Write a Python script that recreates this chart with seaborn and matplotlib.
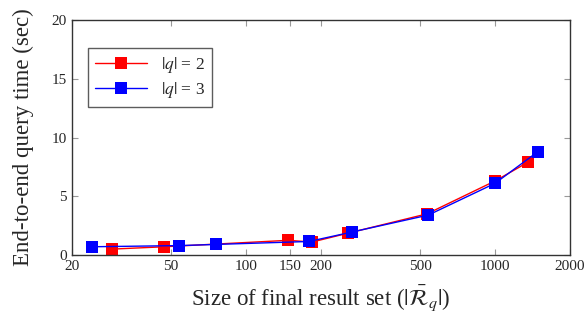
import matplotlib
matplotlib.use("Agg")
import matplotlib.pyplot as plt
import matplotlib.ticker as mticker
import seaborn as sns
import pandas as pd

# Data
q2_size = [29, 47, 148, 184, 256, 533, 1000, 1357]
q2_time = [0.5, 0.7, 1.25, 1.1, 1.85, 3.5, 6.3, 7.9]
q3_size = [24, 54, 76, 179, 266, 540, 1000, 1487]
q3_time = [0.7, 0.8, 0.9, 1.15, 1.95, 3.4, 6.1, 8.8]
x_ticks = [20, 50, 100, 150, 200, 500, 1000, 2000]
y_ticks = [0, 5, 10, 15, 20]

df = pd.concat([
    pd.DataFrame({"size": q2_size, "time": q2_time, "q": r"$|q|$ = 2"}),
    pd.DataFrame({"size": q3_size, "time": q3_time, "q": r"$|q|$ = 3"}),
])

sns.set_style("ticks")
plt.rcParams["font.family"] = ["Liberation Serif", "DejaVu Serif"]
plt.rcParams["mathtext.fontset"] = "stix"

fig = plt.figure(figsize=(5.84, 3.24), dpi=100)
ax = fig.add_axes([0.123, 0.213, 0.853, 0.725])

sns.lineplot(data=df, x="size", y="time", hue="q", palette=["#ff0000", "#0000ff"],
             marker="s", markersize=8.5, markeredgewidth=0, linewidth=1.0,
             ax=ax)

ax.set_xscale("log")
ax.set_xlim(20, 2000)
ax.set_ylim(0, 20)
ax.xaxis.set_major_locator(mticker.FixedLocator(x_ticks))
ax.xaxis.set_major_formatter(mticker.FixedFormatter([str(t) for t in x_ticks]))
ax.xaxis.set_minor_locator(mticker.NullLocator())
ax.set_yticks(y_ticks)

ax.tick_params(direction="in", length=4, color="#999999", labelsize=11,
               top=True, right=True)
for s in ax.spines.values():
    s.set_color("#333333")
    s.set_linewidth(1.0)

ax.set_xlabel(r"Size of final result set ($|\bar{\mathcal{R}}_q|$)", fontsize=16.5,
              labelpad=8)
ax.set_ylabel("End-to-end query time (sec)", fontsize=16.5, labelpad=13)

leg = ax.legend(title=None, loc="upper left", bbox_to_anchor=(0.032, 0.881),
                borderaxespad=0, fontsize=12.5, frameon=True, fancybox=False,
                handlelength=3.0, borderpad=0.4, labelspacing=0.3)
leg.get_frame().set_edgecolor("#333333")
leg.get_frame().set_linewidth(1.0)

fig.savefig("out.png", dpi=100)
